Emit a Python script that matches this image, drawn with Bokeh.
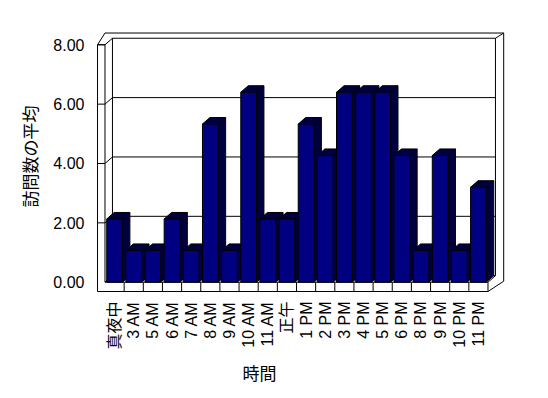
import math
from bokeh.plotting import figure
from bokeh.models import Range1d, FixedTicker, Title, NumeralTickFormatter
from bokeh.embed import file_html
from bokeh.resources import INLINE

# ---- data ----
categories = ["真夜中", "3 AM", "5 AM", "6 AM", "7 AM", "8 AM", "9 AM", "10 AM", "11 AM", "正午",
              "1 PM", "2 PM", "3 PM", "4 PM", "5 PM", "6 PM", "8 PM", "9 PM", "10 PM", "11 PM"]
values = [2.13, 1.07, 1.07, 2.13, 1.07, 5.33, 1.07, 6.40, 2.13, 2.13,
          5.33, 4.27, 6.40, 6.40, 6.40, 4.27, 1.07, 4.27, 1.07, 3.20]
y_ticks = [0, 2, 4, 6, 8]
y_label = "訪問数の平均"
x_label = "時間"

# ---- 3D look parameters (data units) ----
N = len(categories)
YMAX = y_ticks[-1]
DX, DY = 0.39, 0.22        # depth offset
WALL = 0.39                # left wall thickness
FLOOR = 0.313              # floor thickness
BW = 0.82                  # bar width
OUT_TOP = YMAX + 0.396
OUT_RIGHT = N + 0.82

LATIN_CJK = "Liberation Sans, Noto Sans CJK JP"

p = figure(frame_width=410, frame_height=264,
           x_range=Range1d(-0.496, 20.914), y_range=Range1d(-0.414, 8.481),
           output_backend="svg", toolbar_location=None,
           min_border_left=95, min_border_right=33, min_border_top=30, min_border_bottom=94)
p.outline_line_color = None
p.grid.visible = False
p.background_fill_color = "white"
p.border_fill_color = "white"

# ---- walls, floor, gridlines ----
xs, ys = [], []
def seg(x0, y0, x1, y1):
    xs.append([x0, x1]); ys.append([y0, y1])

# left wall front face
seg(-WALL, YMAX, 0, YMAX)
seg(-WALL, YMAX, -WALL, -FLOOR)
seg(0, YMAX, 0, 0)
# floor front face
seg(-WALL, -FLOOR, N, -FLOOR)
seg(0, 0, N, 0)
seg(N, 0, N, -FLOOR)
for i in range(1, N):
    seg(i, 0, i, -FLOOR)
# floor right side
seg(N, 0, N + DX, DY)
seg(N, -FLOOR, OUT_RIGHT, 0.034)
# back wall
seg(DX, DY, DX, YMAX + DY)
seg(N + DX, DY, N + DX, YMAX + DY)
seg(OUT_RIGHT, 0.034, OUT_RIGHT, OUT_TOP)
seg(0, OUT_TOP, OUT_RIGHT, OUT_TOP)
seg(N + DX, YMAX + DY, OUT_RIGHT, OUT_TOP)
seg(-WALL, YMAX, 0, OUT_TOP)
# gridlines and side-wall ticks
for v in y_ticks:
    seg(DX, v + DY, N + DX, v + DY)
    seg(0, v, DX, v + DY)
    if v > 0:
        seg(-WALL, v, 0, v)

p.multi_line(xs, ys, line_color="black", line_width=1)

# ---- bars ----
centers = [i + 0.5 for i in range(N)]
px, py = [], []
ex0, ey0, ex1, ey1 = [], [], [], []
for c, v in zip(centers, values):
    x0 = c - BW / 2
    x1 = c + BW / 2
    px.append([x0, x0 + DX, x1 + DX, x1 + DX, x1, x1])
    py.append([v, v + DY, v + DY, DY, 0, v])
    ex0.append(x1); ey0.append(v); ex1.append(x1 + DX); ey1.append(v + DY)

p.patches(px, py, fill_color="#000040", line_color="black", line_width=1)
p.segment(ex0, ey0, ex1, ey1, line_color="black", line_width=1)
p.vbar(x=centers, width=BW, top=values, bottom=0, fill_color="#000080",
       line_color="black", line_width=1)

# ---- axes ----
yax = p.yaxis[0]
yax.ticker = FixedTicker(ticks=y_ticks)
yax.formatter = NumeralTickFormatter(format="0.00")
yax.axis_line_color = None
yax.major_tick_line_color = None
yax.minor_tick_line_color = None
yax.major_tick_out = 0
yax.major_tick_in = 0
yax.major_label_standoff = 11
yax.major_label_text_font = "Liberation Sans"
yax.major_label_text_font_size = "16px"
yax.major_label_text_color = "black"

xax = p.xaxis[0]
xax.ticker = FixedTicker(ticks=centers)
xax.major_label_overrides = {c: lab for c, lab in zip(centers, categories)}
xax.major_label_orientation = math.pi / 2
xax.axis_line_color = None
xax.major_tick_line_color = None
xax.minor_tick_line_color = None
xax.major_tick_out = 0
xax.major_tick_in = 0
xax.major_label_standoff = 7
xax.major_label_text_font = LATIN_CJK
xax.major_label_text_font_size = "16px"
xax.major_label_text_color = "black"

# axis titles (offset from the frame centre as in the reference)
p.add_layout(Title(text=y_label, align="left", offset=87,
                   text_font="Noto Sans CJK JP", text_font_size="17px",
                   text_font_style="normal", text_color="black", standoff=18), "left")
p.add_layout(Title(text=x_label, align="left", offset=147,
                   text_font="Noto Sans CJK JP", text_font_size="17px",
                   text_font_style="normal", text_color="black", standoff=10), "below")

open("out.html", "w").write(file_html(p, INLINE))
